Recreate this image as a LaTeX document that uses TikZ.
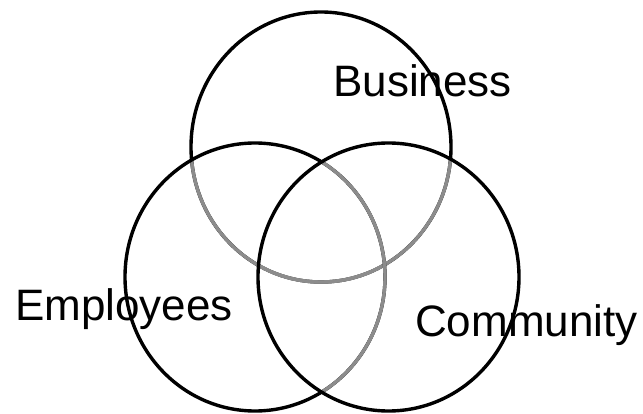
\documentclass[tikz,border=0pt]{standalone}
\usepackage{fontspec}
\setmainfont{Liberation Sans}
\usetikzlibrary{shapes.geometric}
\begin{document}
\begin{tikzpicture}[x=1pt,y=-1pt,
  setring/.style={ellipse, draw=black, line width=3.4pt, inner sep=0pt, outer sep=0pt},
  hidden/.style={draw=black!45, line width=3.4pt},
  lbl/.style={anchor=base west, inner sep=0pt, font=\fontsize{44}{48}\selectfont}]
\useasboundingbox (0,0) rectangle (643,414);
% Business circle
\node[setring, minimum width=260pt, minimum height=270pt] (business) at (321,147) {};
\begin{scope}
  \clip (255,277) ellipse [x radius=130pt, y radius=134pt];
  \draw[hidden] (business.center) ellipse [x radius=130pt, y radius=135pt];
\end{scope}
\begin{scope}
  \clip (388.5,277) ellipse [x radius=130.5pt, y radius=134pt];
  \draw[hidden] (business.center) ellipse [x radius=130pt, y radius=135pt];
\end{scope}
% Employees circle
\node[setring, minimum width=260pt, minimum height=268pt] (employees) at (255,277) {};
\begin{scope}
  \clip (388.5,277) ellipse [x radius=130.5pt, y radius=134pt];
  \draw[hidden] (employees.center) ellipse [x radius=130pt, y radius=134pt];
\end{scope}
% Community circle
\node[setring, minimum width=261pt, minimum height=268pt] (community) at (388.5,277) {};
\node[lbl] (tb) at (333,97) {Business};
\node[lbl] (te) at (15,320) {Employees};
\node[lbl] (tc) at (415,337) {Community};
\end{tikzpicture}
\end{document}
